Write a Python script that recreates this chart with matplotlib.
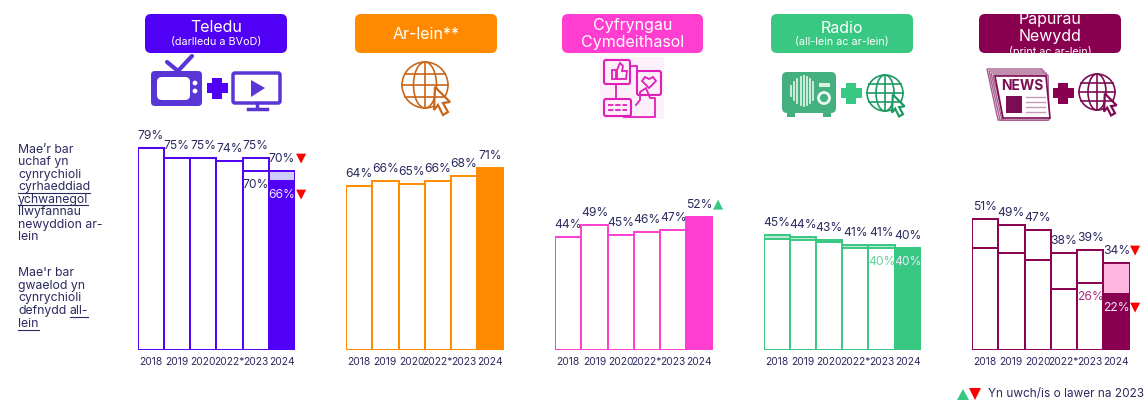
import numpy as np
import matplotlib

matplotlib.use("Agg")
import matplotlib.pyplot as plt
from matplotlib.patches import Circle, Ellipse, FancyBboxPatch, Polygon, Rectangle

plt.rcParams["font.family"] = ["Inter", "DejaVu Sans"]

years = ["2018", "2019", "2020", "2022*", "2023", "2024"]

tv_reach = [79, 75, 75, 74, 75, 70]
tv_use = [79, 75, 75, 74, 70, 66]
online_reach = [64, 66, 65, 66, 68, 71]
social_reach = [44, 49, 45, 46, 47, 52]
radio_reach = [45, 44, 43, 41, 41, 40]
radio_use = [43.5, 43, 42, 39.8, 40, 40]
news_reach = [51, 49, 47, 38, 39, 34]
news_use = [40, 38, 35, 24, 26, 22]

NAVY = "#2b2a5e"
UP = "#38c882"
DOWN = "#ff0000"
W, H = 1145, 400
LABEL_SIZE = 8.7

fig = plt.figure(figsize=(W / 100, H / 100), dpi=100)
bg = fig.add_axes([0, 0, 1, 1])
bg.set_xlim(0, W)
bg.set_ylim(H, 0)
bg.axis("off")


def draw_panel(left, reach, use, color, light, use_label=None, reach_mark=None, use_mark=None, gap_fill=False):
    ax = fig.add_axes([left / W, 50 / H, 157.5 / W, 256 / H])
    ax.patch.set_alpha(0)
    x = np.arange(len(reach))
    faces = [light if gap_fill else "white"] * 5 + [light]
    ax.bar(x, reach, width=1, color=faces, edgecolor=color, linewidth=1.4)
    if use is not None:
        ax.bar(x, use, width=1, color=["white"] * 5 + [color], edgecolor=color, linewidth=1.4)
    ax.set_xlim(-0.5, 5.5)
    ax.set_ylim(0, 100)
    ax.set_xticks(x, years)
    ax.set_yticks([])
    ax.tick_params(axis="x", length=0, pad=5, labelsize=7.4, labelcolor=NAVY)
    for s in ax.spines.values():
        s.set_visible(False)

    for i, v in zip(x, reach):
        ax.annotate(f"{v}%", (i, v), xytext=(0, 12), textcoords="offset pixels",
                    ha="center", va="center", fontsize=LABEL_SIZE, color=NAVY, annotation_clip=False)
    if use is not None:
        ax.annotate(f"{use[4]:.0f}%", (4, use[4]), xytext=(0, -14), textcoords="offset pixels",
                    ha="center", va="center", fontsize=LABEL_SIZE, color=use_label, annotation_clip=False)
        ax.annotate(f"{use[5]:.0f}%", (5, use[5]), xytext=(0, -14), textcoords="offset pixels",
                    ha="center", va="center", fontsize=LABEL_SIZE, color="#f0e6ff", annotation_clip=False)
    if reach_mark:
        glyph, c = ("▲", UP) if reach_mark == "up" else ("▼", DOWN)
        ax.annotate(glyph, (5, reach[5]), xytext=(19, 13), textcoords="offset pixels", family="DejaVu Sans",
                    ha="center", va="center", fontsize=9.5, color=c, annotation_clip=False)
    if use_mark:
        ax.annotate("▼", (5, use[5]), xytext=(19, -13), textcoords="offset pixels", family="DejaVu Sans",
                    ha="center", va="center", fontsize=9.5, color=DOWN, annotation_clip=False)
    return ax


draw_panel(137.5, tv_reach, tv_use, "#5000f5", "#cfcbfa", NAVY, "down", "down")
draw_panel(346, online_reach, None, "#ff8a00", "#ff8a00")
draw_panel(555, social_reach, None, "#ff3dd0", "#ff3dd0", reach_mark="up")
draw_panel(763.5, radio_reach, radio_use, "#38c882", "#bfe9d3", "#5fd39b", gap_fill=True)
draw_panel(972, news_reach, news_use, "#8a0050", "#ffb5e0", "#b03080", "down", "down")


def header(x0, x1, color, lines):
    box = FancyBboxPatch((x0 + 5, 19), x1 - x0 - 10, 29, boxstyle="round,pad=5,rounding_size=6",
                         fc=color, ec="none")
    bg.add_patch(box)
    for text, y, size in lines:
        t = bg.text((x0 + x1) / 2, y + 1.5, text, ha="center", va="center", fontsize=size, color="white")
        t.set_clip_path(box)


header(145, 287, "#5000f5", [("Teledu", 26, 11.5), ("(darlledu a BVoD)", 41, 7.8)])
header(355, 497, "#ff8a00", [("Ar-lein**", 33, 11.5)])
header(562, 703, "#ff3dd0", [("Cyfryngau", 24, 11.5), ("Cymdeithasol", 41, 11.5)])
header(771, 913, "#38c882", [("Radio", 27, 11.5), ("(all-lein ac ar-lein)", 41, 7.8)])
header(979, 1121, "#8a0050", [("Papurau", 18, 11.5), ("Newydd", 35, 11.5), ("(print ac ar-lein)", 50, 7.8)])


def plus(cx, cy, size, color):
    t = size * 0.22
    bg.add_patch(Rectangle((cx - size / 2, cy - t), size, 2 * t, fc=color, ec="none"))
    bg.add_patch(Rectangle((cx - t, cy - size / 2), 2 * t, size, fc=color, ec="none"))


def globe(cx, cy, r, color):
    lw = 1.2
    bg.add_patch(Circle((cx, cy), r, fc="white", ec=color, lw=lw))
    bg.add_patch(Ellipse((cx, cy), r, 2 * r, fc="none", ec=color, lw=lw))
    bg.plot([cx, cx], [cy - r, cy + r], color=color, lw=lw)
    for f in (-0.5, 0, 0.5):
        half = r * np.sqrt(1 - f ** 2)
        bg.plot([cx - half, cx + half], [cy + f * r, cy + f * r], color=color, lw=lw)
    s = r / 23
    cursor = np.array([[10, 2], [25, 17], [18, 18], [23, 27], [18, 30], [13, 20], [9, 25]]) * s
    bg.add_patch(Polygon(cursor + [cx, cy], fc="white", ec=color, lw=1.6, joinstyle="miter"))


def round_box(x, y, w, h, r, **kw):
    bg.add_patch(FancyBboxPatch((x + r, y + r), w - 2 * r, h - 2 * r,
                                boxstyle=f"round,pad={r},rounding_size={r}", **kw))


# TV + BVoD icon
tv_c = "#5a35d6"
bg.plot([167, 178, 192], [62, 71, 56], color=tv_c, lw=3, solid_capstyle="round")
round_box(151, 71, 51, 35, 4, fc=tv_c, ec="none")
round_box(157, 77, 33, 23, 5, fc="white", ec="none")
bg.add_patch(Circle((195, 83), 2.4, fc="white", ec="none"))
bg.add_patch(Circle((195, 91), 2.4, fc="white", ec="none"))
plus(217, 88, 21, "#5000f5")
round_box(233, 73, 47, 30, 2, fc="white", ec=tv_c, lw=2.5)
bg.add_patch(Polygon([(251, 80), (265, 88), (251, 97)], fc=tv_c, ec="none"))
bg.plot([257, 257], [103, 108], color=tv_c, lw=2.5)
bg.plot([248, 267], [109, 109], color=tv_c, lw=2.5)

globe(425, 85, 23, "#c8661b")

# social icon
soc = "#e01fb8"
bg.add_patch(Rectangle((600, 57), 64, 62, fc="#fdf0fb", ec="none"))
round_box(604, 60, 26, 24, 2, fc="none", ec=soc, lw=1.5)
bg.add_patch(Rectangle((612, 70), 4, 9, fc="none", ec=soc, lw=1.3))
bg.add_patch(Polygon([(617, 79), (617, 70), (620, 63), (623, 66), (622, 71), (627, 71), (626, 79)],
                     fc="none", ec=soc, lw=1.3))
round_box(637, 71, 24, 24, 2, fc="none", ec=soc, lw=1.5)
bg.add_patch(Polygon([(649, 88), (642, 81), (645, 77), (649, 79), (653, 77), (656, 81)],
                     fc="none", ec=soc, lw=1.3))
bg.plot([631, 637, 637], [66, 66, 71], color=soc, lw=1.3)
bg.plot([616, 616], [84, 98], color=soc, lw=1.3)
round_box(604, 99, 27, 17, 2, fc="none", ec=soc, lw=1.5)
bg.plot([608, 627], [105, 105], color=soc, lw=1.3, ls=(0, (3, 1)))
bg.plot([608, 627], [110, 110], color=soc, lw=1.3, ls=(0, (3, 1)))
bg.plot([636, 640, 640, 646, 650, 655, 655, 648, 624],
        [105, 100, 92, 88, 98, 98, 117, 117, 117], color=soc, lw=1.3)

# radio icon
rad = "#45b07f"
bg.add_patch(Rectangle((787, 110), 8, 7, fc=rad, ec="none"))
bg.add_patch(Rectangle((823, 110), 8, 7, fc=rad, ec="none"))
round_box(782, 72, 54, 41, 5, fc=rad, ec="none")
for lx, half in zip(np.arange(791, 815, 3.2), [5, 9, 12, 14, 15, 14, 12, 9]):
    bg.plot([lx, lx], [91 - half, 91 + half], color="#d8f1e4", lw=1.3)
bg.add_patch(Rectangle((819, 83), 11, 4, fc="#d8f1e4", ec="none"))
bg.add_patch(Circle((824, 98), 5.5, fc="none", ec="#e8f7ef", lw=2))
plus(851, 93, 21, "#38c882")
globe(885, 93, 18, "#1d9a63")

# newspaper icon
nw = "#7c0c54"
for off in (0, 2, 4, 6):
    bg.add_patch(Polygon([(987 + off, 69 + off), (1042 + off, 69 + off), (1046 + off / 2, 120), (998 + off, 120)],
                         fc="white", ec="#a85e8c", lw=1))
bg.add_patch(Polygon([(995, 76), (1046, 76), (1050, 118), (1003, 118)], fc="white", ec=nw, lw=1.2))
bg.text(1022, 86, "NEWS", ha="center", va="center", fontsize=10, fontweight="bold", color=nw)
bg.add_patch(Rectangle((1006, 96), 16, 17, fc=nw, ec="none"))
for ly in (97, 102, 107, 112):
    bg.plot([1026, 1045], [ly, ly], color="#c79ab7", lw=1)
plus(1063, 93, 21, "#8a0050")
globe(1097, 92, 18, nw)

# side notes
note_top = ["Mae’r bar", "uchaf yn", "cynrychioli", "cyrhaeddiad", "ychwanegol", "llwyfannau", "newyddion ar-", "lein"]
note_bottom = ["Mae'r bar", "gwaelod yn", "cynrychioli", "defnydd", "lein"]
for line, y in zip(note_top, np.linspace(150, 237, 8)):
    bg.text(18, y, line, ha="left", va="center", fontsize=8.8, color=NAVY)
for line, y in zip(note_bottom, np.linspace(273, 324, 5)):
    bg.text(18, y, line, ha="left", va="center", fontsize=8.8, color=NAVY)
bg.text(70, 311, "all-", ha="left", va="center", fontsize=8.8, color=NAVY)
for x0, x1, y in [(18, 90, 192.5), (18, 88, 205), (70, 88, 317), (18, 39, 330)]:
    bg.plot([x0, x1], [y, y], color=NAVY, lw=0.8)

# legend
bg.add_patch(Polygon([(957, 400), (969, 400), (963, 389)], fc=UP, ec="none"))
bg.add_patch(Polygon([(969, 388), (981, 388), (975, 400)], fc=DOWN, ec="none"))
bg.text(988, 394.5, "Yn uwch/is o lawer na 2023", ha="left", va="center", fontsize=8.5, color=NAVY)

fig.savefig("out.png", dpi=100)
